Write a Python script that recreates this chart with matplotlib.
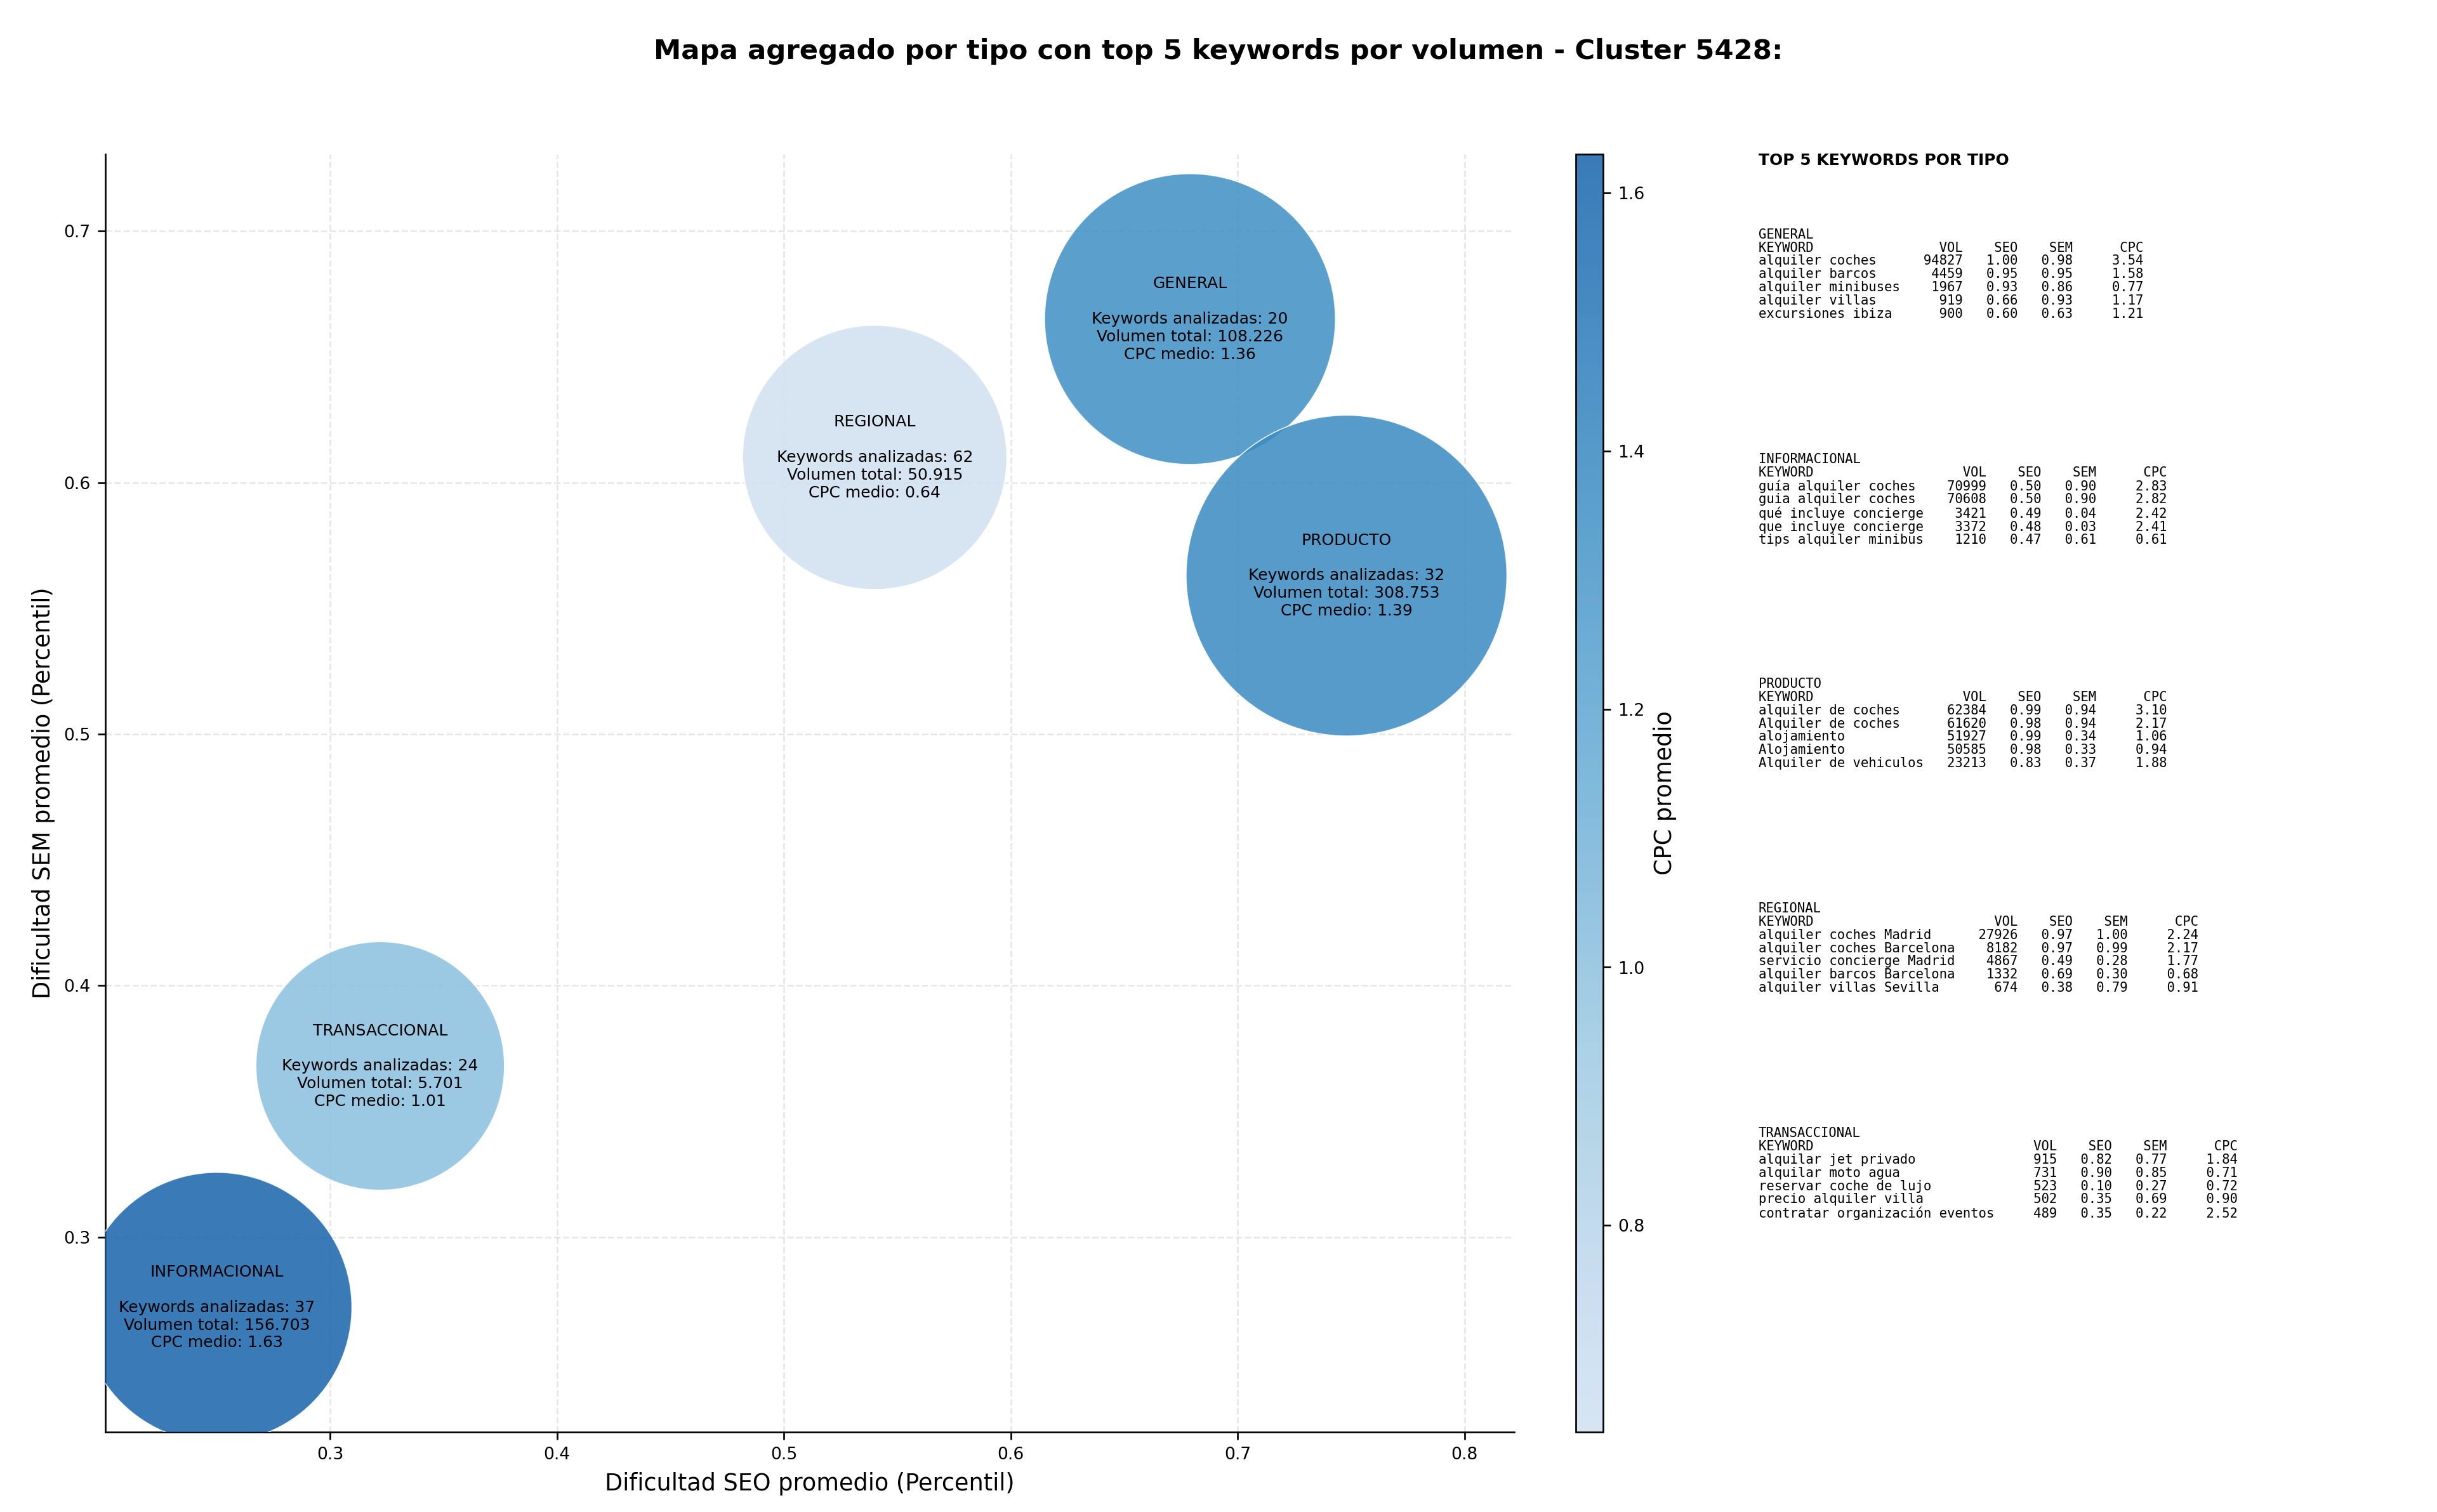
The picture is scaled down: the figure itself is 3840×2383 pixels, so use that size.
import matplotlib
matplotlib.use("Agg")
import matplotlib.pyplot as plt
import numpy as np
from matplotlib.colors import LinearSegmentedColormap, Normalize

tipos = ["GENERAL", "REGIONAL", "PRODUCTO", "TRANSACCIONAL", "INFORMACIONAL"]
seo_medio = [0.679, 0.540, 0.748, 0.322, 0.250]
sem_medio = [0.665, 0.610, 0.563, 0.368, 0.272]
n_keywords = [20, 62, 32, 24, 37]
volumen_total = ["108.226", "50.915", "308.753", "5.701", "156.703"]
cpc_medio = [1.36, 0.64, 1.39, 1.01, 1.63]
bubble_size = [18900, 15600, 23000, 13800, 16300]

top_keywords = {
  "GENERAL": [
    ("alquiler coches", 94827, 1.00, 0.98, 3.54),
    ("alquiler barcos", 4459, 0.95, 0.95, 1.58),
    ("alquiler minibuses", 1967, 0.93, 0.86, 0.77),
    ("alquiler villas", 919, 0.66, 0.93, 1.17),
    ("excursiones ibiza", 900, 0.60, 0.63, 1.21)],
  "INFORMACIONAL": [
    ("guía alquiler coches", 70999, 0.50, 0.90, 2.83),
    ("guia alquiler coches", 70608, 0.50, 0.90, 2.82),
    ("qué incluye concierge", 3421, 0.49, 0.04, 2.42),
    ("que incluye concierge", 3372, 0.48, 0.03, 2.41),
    ("tips alquiler minibus", 1210, 0.47, 0.61, 0.61)],
  "PRODUCTO": [
    ("alquiler de coches", 62384, 0.99, 0.94, 3.10),
    ("Alquiler de coches", 61620, 0.98, 0.94, 2.17),
    ("alojamiento", 51927, 0.99, 0.34, 1.06),
    ("Alojamiento", 50585, 0.98, 0.33, 0.94),
    ("Alquiler de vehiculos", 23213, 0.83, 0.37, 1.88)],
  "REGIONAL": [
    ("alquiler coches Madrid", 27926, 0.97, 1.00, 2.24),
    ("alquiler coches Barcelona", 8182, 0.97, 0.99, 2.17),
    ("servicio concierge Madrid", 4867, 0.49, 0.28, 1.77),
    ("alquiler barcos Barcelona", 1332, 0.69, 0.30, 0.68),
    ("alquiler villas Sevilla", 674, 0.38, 0.79, 0.91)],
  "TRANSACCIONAL": [
    ("alquilar jet privado", 915, 0.82, 0.77, 1.84),
    ("alquilar moto agua", 731, 0.90, 0.85, 0.71),
    ("reservar coche de lujo", 523, 0.10, 0.27, 0.72),
    ("precio alquiler villa", 502, 0.35, 0.69, 0.90),
    ("contratar organización eventos", 489, 0.35, 0.22, 2.52)],
}

blues = plt.get_cmap("Blues")
cmap = LinearSegmentedColormap.from_list("blues_cut", blues(np.linspace(0.2, 0.8, 256)))
norm = Normalize(vmin=min(cpc_medio), vmax=max(cpc_medio))

fig = plt.figure(figsize=(16, 9.93), dpi=240)
ax = fig.add_axes([0.0432, 0.0530, 0.5782, 0.8450])
cax = fig.add_axes([0.6465, 0.0530, 0.0112, 0.8450])

sc = ax.scatter(seo_medio, sem_medio, s=bubble_size, c=cpc_medio, cmap=cmap, norm=norm,
                alpha=0.85, edgecolors="white", linewidths=0.5, zorder=3)
for t, x, y, n, v, c in zip(tipos, seo_medio, sem_medio, n_keywords, volumen_total, cpc_medio):
  ax.text(x, y, f"{t}\n\nKeywords analizadas: {n}\nVolumen total: {v}\nCPC medio: {c:.2f}",
          ha="center", va="center", fontsize=7.5, zorder=4)

ax.set_xlim(0.2008, 0.822)
ax.set_ylim(0.2225, 0.7306)
ax.set_xticks([0.3, 0.4, 0.5, 0.6, 0.7, 0.8])
ax.set_yticks([0.3, 0.4, 0.5, 0.6, 0.7])
ax.tick_params(labelsize=8)
ax.grid(True, linestyle="--", alpha=0.3, zorder=0)
ax.spines['top'].set_visible(False)
ax.spines['right'].set_visible(False)
ax.set_xlabel("Dificultad SEO promedio (Percentil)", fontsize=11)
ax.set_ylabel("Dificultad SEM promedio (Percentil)", fontsize=11)

cb = fig.colorbar(sc, cax=cax)
cb.set_label("CPC promedio", fontsize=11)
cb.ax.tick_params(labelsize=8)

fig.suptitle("Mapa agregado por tipo con top 5 keywords por volumen - Cluster 5428:",
             fontsize=13, fontweight="bold", y=0.975)

fig.text(0.7215, 0.899, "TOP 5 KEYWORDS POR TIPO", fontsize=7.5, fontweight="bold", va="top")
y0 = 0.849
for i, t in enumerate(["GENERAL", "INFORMACIONAL", "PRODUCTO", "REGIONAL", "TRANSACCIONAL"]):
  rows = top_keywords[t]
  w = max(len(r[0]) for r in rows) + 2
  lines = [t, f"{'KEYWORD':<{w}}{'VOL':>6}{'SEO':>7}{'SEM':>7}{'CPC':>9}"]
  for kw, vol, seo, sem, cpc in rows:
    lines.append(f"{kw:<{w}}{vol:>6}{seo:>7.2f}{sem:>7.2f}{cpc:>9.2f}")
  fig.text(0.7215, y0 - i * 0.1486, "\n".join(lines), fontsize=6.2,
           family="DejaVu Sans Mono", va="top", linespacing=1.05)

fig.savefig("out.png", dpi=240)
